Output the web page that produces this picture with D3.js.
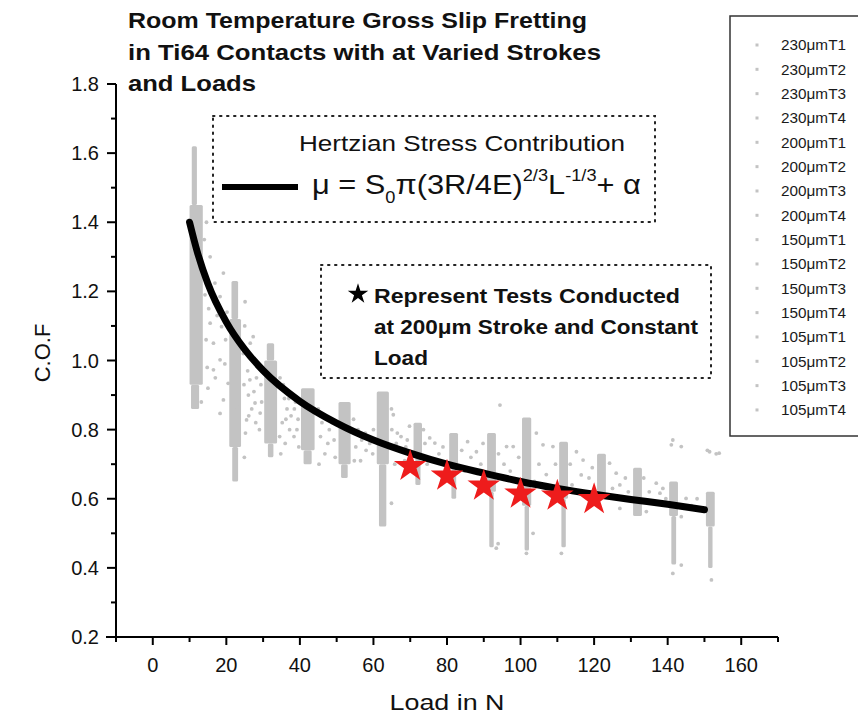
<!DOCTYPE html>
<html lang="en">
<head>
<meta charset="UTF-8">
<title>Room Temperature Gross Slip Fretting</title>
<script src="https://d3js.org/d3.v7.min.js"></script>
<style>
    body { margin: 0; background: #fff; }
    svg { display: block; }
    text { font-family: "Liberation Sans", Arial, sans-serif; fill: #111; }
    .title { font-weight: bold; font-size: 21.5px; }
    .tick-label { font-size: 20px; }
    .axis-title { font-size: 22px; }
    .legend-label { font-size: 15px; fill: #1a1a1a; }
    .note-box { fill: none; stroke: #222; stroke-width: 2; stroke-dasharray: 1.5 5.5; stroke-linecap: round; }
</style>
</head>
<body>
<div id="chart"></div>
<script>
// ---- data ----
const titleLines = ["Room Temperature Gross Slip Fretting", "in Ti64 Contacts with at Varied Strokes", "and Loads"];

const legendNames = ["230\u03bcmT1", "230\u03bcmT2", "230\u03bcmT3", "230\u03bcmT4",
                     "200\u03bcmT1", "200\u03bcmT2", "200\u03bcmT3", "200\u03bcmT4",
                     "150\u03bcmT1", "150\u03bcmT2", "150\u03bcmT3", "150\u03bcmT4",
                     "105\u03bcmT1", "105\u03bcmT2", "105\u03bcmT3", "105\u03bcmT4"];

const xTicks = [0, 20, 40, 60, 80, 100, 120, 140, 160];
const yTicks = [0.2, 0.4, 0.6, 0.8, 1.0, 1.2, 1.4, 1.6, 1.8];

// dense parts of each load step: [load min, load max, cof low, cof high]
const denseBands = [
    [10.6, 12.0, 1.45, 1.62], [10.0, 13.6, 0.93, 1.45], [10.4, 12.6, 0.86, 0.93],
    [21.4, 23.2, 1.12, 1.23], [20.8, 24.0, 0.75, 1.12], [21.6, 23.2, 0.65, 0.75],
    [31.0, 33.0, 1.00, 1.05], [30.3, 33.8, 0.76, 1.00], [31.3, 32.8, 0.72, 0.76],
    [40.3, 44.0, 0.74, 0.92], [41.0, 43.2, 0.70, 0.74],
    [50.5, 53.8, 0.70, 0.88], [51.2, 53.0, 0.66, 0.70],
    [60.9, 64.2, 0.70, 0.91], [61.5, 63.5, 0.52, 0.70],
    [70.9, 73.2, 0.73, 0.82], [71.4, 72.8, 0.64, 0.73],
    [80.6, 83.0, 0.70, 0.79], [81.2, 82.5, 0.60, 0.70],
    [90.9, 93.3, 0.62, 0.79], [91.5, 92.7, 0.46, 0.62],
    [100.4, 102.9, 0.58, 0.835], [101.1, 102.3, 0.45, 0.58],
    [110.5, 112.9, 0.60, 0.765], [111.1, 112.3, 0.46, 0.60],
    [120.8, 123.2, 0.60, 0.73],
    [130.6, 133.0, 0.55, 0.69],
    [140.4, 142.8, 0.55, 0.65], [141.0, 142.3, 0.41, 0.55],
    [150.4, 152.8, 0.52, 0.62], [151.0, 152.2, 0.40, 0.52]
];

// loose points between and around the load steps: [load, cof]
const loosePoints = [
    [15.6, 1.30], [19.2, 1.253], [16.9, 1.224], [18.3, 1.185], [25.1, 1.17], [15.6, 1.108],
    [18.7, 1.098], [16.5, 1.05], [18.3, 1.002], [16.5, 0.973], [20.5, 0.934], [19.2, 0.886],
    [22.8, 0.866], [18.3, 0.847], [13.5, 1.27], [14.2, 1.19], [13.2, 0.88], [14.8, 0.98],
    [14.6, 1.40], [14.0, 1.35], [15.2, 1.15], [17.5, 1.13], [19.8, 1.06], [17.0, 0.95],
    [15.0, 0.92], [19.6, 0.99], [20.2, 1.14], [14.5, 1.06],
    [27.3, 1.069], [28.7, 0.992], [26.4, 0.944], [27.8, 0.877], [29.2, 0.848], [25.5, 0.828],
    [24.6, 1.02], [26.0, 0.90], [25.0, 1.10], [26.5, 1.05], [27.2, 1.00], [28.2, 0.95],
    [25.8, 0.97], [29.4, 0.93], [26.9, 0.86], [28.0, 0.82], [29.6, 0.88], [25.2, 0.79],
    [24.8, 0.93], [27.5, 0.91], [26.1, 0.84], [29.0, 0.80], [24.9, 0.72],
    [34.6, 0.95], [35.8, 0.89], [36.5, 0.86], [37.6, 0.84], [38.8, 0.88], [35.2, 0.82],
    [37.2, 0.80], [39.5, 0.83], [36.0, 0.76], [38.4, 0.78], [34.8, 0.73], [39.7, 0.75],
    [35.5, 0.93], [37.0, 0.89], [38.5, 0.86], [36.2, 0.83], [39.2, 0.80], [34.5, 0.78],
    [45.0, 0.86], [46.0, 0.82], [47.2, 0.83], [48.0, 0.80], [49.3, 0.77], [45.6, 0.78],
    [47.6, 0.76], [48.8, 0.82], [46.8, 0.73], [49.6, 0.72], [45.2, 0.70], [45.5, 0.84],
    [54.6, 0.83], [55.8, 0.80], [56.8, 0.77], [57.8, 0.79], [59.0, 0.76], [58.0, 0.74],
    [55.2, 0.75], [59.8, 0.73], [56.5, 0.71], [60.0, 0.80], [54.8, 0.71],
    [65.4, 0.843], [67.5, 0.78], [68.8, 0.75], [66.2, 0.76], [64.9, 0.86], [64.9, 0.587],
    [65.0, 0.80], [66.5, 0.79], [67.8, 0.74], [69.2, 0.77], [68.5, 0.71], [69.8, 0.81], [65.8, 0.70],
    [74.0, 0.76], [75.3, 0.776], [76.7, 0.761], [77.8, 0.73], [78.9, 0.75], [79.5, 0.70],
    [74.6, 0.70], [73.6, 0.80],
    [84.0, 0.74], [85.6, 0.765], [86.5, 0.72], [88.0, 0.736], [89.2, 0.70], [84.8, 0.68], [89.8, 0.76],
    [94.4, 0.871], [94.0, 0.73], [96.2, 0.751], [98.0, 0.751], [95.5, 0.70], [97.2, 0.68],
    [99.5, 0.72], [93.9, 0.47], [93.4, 0.457],
    [103.4, 0.50], [104.3, 0.79], [106.1, 0.756], [108.8, 0.751], [105.0, 0.70], [107.0, 0.67],
    [109.5, 0.70], [103.8, 0.65], [101.6, 0.442],
    [113.5, 0.70], [115.2, 0.736], [117.0, 0.712], [116.5, 0.669], [118.6, 0.66], [114.0, 0.64],
    [119.5, 0.69], [111.1, 0.442],
    [124.2, 0.703], [126.0, 0.674], [127.0, 0.64], [127.0, 0.572], [125.0, 0.63], [128.5, 0.66], [129.3, 0.62],
    [134.2, 0.563], [136.9, 0.645], [138.7, 0.63], [137.9, 0.616], [135.0, 0.62], [139.5, 0.60], [133.5, 0.66],
    [141.4, 0.77], [141.0, 0.756], [143.7, 0.751], [145.0, 0.601], [143.7, 0.548], [146.5, 0.58],
    [148.0, 0.60], [147.0, 0.57], [143.7, 0.408], [141.4, 0.384],
    [151.4, 0.736], [154.0, 0.732], [151.9, 0.365], [153.2, 0.73], [150.8, 0.74]
];

// Hertzian fit curve, read at several loads
const fitLoad = [10, 12, 15, 20, 25, 30, 40, 50, 60, 70, 80, 90, 100, 110, 120, 130, 140, 150];
const fitCof  = [1.40, 1.318, 1.222, 1.111, 1.032, 0.971, 0.882, 0.819, 0.770, 0.732, 0.700, 0.674, 0.650, 0.630, 0.613, 0.598, 0.584, 0.568];

// tests at 200 um stroke and constant load
const starLoad = [70, 80, 90, 100, 110, 120];
const starCof  = [0.700, 0.672, 0.643, 0.620, 0.614, 0.604];

// ---- layout ----
const width = 858, height = 719;
const grey = "#c3c3c3";

const svg = d3.select("#chart").append("svg")
    .attr("width", width)
    .attr("height", height);

const x = d3.scaleLinear().domain([-10, 170]).range([116, 778]);
const y = d3.scaleLinear().domain([0.2, 1.8]).range([637, 84]);

// scatter: dense cores then loose points
svg.append("g").selectAll("rect")
    .data(denseBands)
    .join("rect")
    .attr("x", d => x(d[0]))
    .attr("width", d => x(d[1]) - x(d[0]))
    .attr("y", d => y(d[3]))
    .attr("height", d => y(d[2]) - y(d[3]))
    .attr("rx", 1.5)
    .attr("fill", grey);

svg.append("g").selectAll("circle")
    .data(loosePoints)
    .join("circle")
    .attr("cx", d => x(d[0]))
    .attr("cy", d => y(d[1]))
    .attr("r", 1.9)
    .attr("fill", grey);

// fit line
const fit = fitLoad.map((l, i) => [l, fitCof[i]]);
svg.append("path")
    .datum(fit)
    .attr("fill", "none")
    .attr("stroke", "#000")
    .attr("stroke-width", 7)
    .attr("stroke-linecap", "round")
    .attr("d", d3.line().x(d => x(d[0])).y(d => y(d[1])).curve(d3.curveMonotoneX));

// red stars
const star = d3.symbol().type(d3.symbolStar).size(330);
svg.append("g").selectAll("path")
    .data(starLoad.map((l, i) => [l, starCof[i]]))
    .join("path")
    .attr("transform", d => `translate(${x(d[0])},${y(d[1]) + 2})`)
    .attr("d", star)
    .attr("fill", "#ee1c1c");

// axes
const xAxis = svg.append("g").attr("transform", `translate(0,${y(0.2)})`);
xAxis.append("path")
    .attr("d", `M${x(-10) - 10},0H${x(170)}`)
    .attr("stroke", "#000").attr("stroke-width", 2);
xAxis.selectAll("line")
    .data(d3.range(-10, 171, 10))
    .join("line")
    .attr("x1", d => x(d)).attr("x2", d => x(d))
    .attr("y1", 0).attr("y2", d => xTicks.includes(d) ? 8 : 5)
    .attr("stroke", "#000").attr("stroke-width", 2);
xAxis.selectAll("text")
    .data(xTicks)
    .join("text")
    .attr("class", "tick-label")
    .attr("x", d => x(d))
    .attr("y", 35)
    .attr("text-anchor", "middle")
    .text(d => d);

const yAxis = svg.append("g").attr("transform", `translate(${x(-10)},0)`);
yAxis.append("path")
    .attr("d", `M0,${y(1.8)}V${y(0.2)}`)
    .attr("stroke", "#000").attr("stroke-width", 2);
yAxis.selectAll("line")
    .data(d3.range(2, 19).map(v => v / 10))
    .join("line")
    .attr("y1", d => y(d)).attr("y2", d => y(d))
    .attr("x1", 0).attr("x2", (d, i) => i % 2 === 0 ? -9 : -5)
    .attr("stroke", "#000").attr("stroke-width", 2);
yAxis.selectAll("text")
    .data(yTicks)
    .join("text")
    .attr("class", "tick-label")
    .attr("x", -17)
    .attr("y", d => y(d))
    .attr("dy", "0.35em")
    .attr("text-anchor", "end")
    .text(d => d.toFixed(1));

svg.append("text")
    .attr("class", "axis-title")
    .attr("transform", "translate(50,353) rotate(-90)")
    .attr("text-anchor", "middle")
    .text("C.O.F");

svg.append("text")
    .attr("class", "axis-title")
    .attr("x", 447).attr("y", 710)
    .attr("text-anchor", "middle")
    .attr("textLength", 115)
    .attr("lengthAdjust", "spacingAndGlyphs")
    .text("Load in N");

// title
const titleWidths = [459, 473, 128];
svg.append("g").selectAll("text")
    .data(titleLines)
    .join("text")
    .attr("class", "title")
    .attr("x", 128)
    .attr("y", (d, i) => 28 + i * 31.5)
    .attr("textLength", (d, i) => titleWidths[i])
    .attr("lengthAdjust", "spacingAndGlyphs")
    .text(d => d);

// Hertzian note box
svg.append("rect").attr("class", "note-box")
    .attr("x", 213).attr("y", 116).attr("width", 442).attr("height", 106);
svg.append("line")
    .attr("x1", 222).attr("x2", 298).attr("y1", 187).attr("y2", 187)
    .attr("stroke", "#000").attr("stroke-width", 6);
svg.append("text")
    .attr("x", 299).attr("y", 151)
    .attr("font-size", 22)
    .attr("textLength", 326)
    .attr("lengthAdjust", "spacingAndGlyphs")
    .text("Hertzian Stress Contribution");

const eq = svg.append("text")
    .attr("transform", "translate(312,194) scale(1.14,1)")
    .attr("font-size", 27);
eq.append("tspan").text("\u03bc = S");
eq.append("tspan").attr("font-size", 16).attr("dy", 9).text("0");
eq.append("tspan").attr("dy", -9).text("\u03c0(3R/4E)");
eq.append("tspan").attr("font-size", 16).attr("dy", -13).text("2/3");
eq.append("tspan").attr("dy", 13).text("L");
eq.append("tspan").attr("font-size", 16).attr("dy", -13).text("-1/3");
eq.append("tspan").attr("dy", 13).text("+ \u03b1");

// star note box
svg.append("rect").attr("class", "note-box")
    .attr("x", 321).attr("y", 265).attr("width", 390).attr("height", 113);
svg.append("path")
    .attr("transform", "translate(358,294)")
    .attr("d", d3.symbol().type(d3.symbolStar).size(130))
    .attr("fill", "#000");
const noteLines = ["Represent Tests Conducted", "at 200\u03bcm Stroke and Constant", "Load"];
const noteWidths = [306, 324, 54];
svg.append("g").selectAll("text")
    .data(noteLines)
    .join("text")
    .attr("x", 374)
    .attr("y", (d, i) => 303 + i * 31)
    .attr("font-size", 20)
    .attr("font-weight", "bold")
    .attr("textLength", (d, i) => noteWidths[i])
    .attr("lengthAdjust", "spacingAndGlyphs")
    .text(d => d);

// legend
svg.append("rect")
    .attr("x", 730).attr("y", 16).attr("width", 150).attr("height", 420)
    .attr("fill", "#fff").attr("stroke", "#333").attr("stroke-width", 1.5);
const legend = svg.append("g").selectAll("g")
    .data(legendNames)
    .join("g")
    .attr("transform", (d, i) => `translate(0,${45 + i * 24.33})`);
legend.append("rect").attr("x", 755.5).attr("y", -1.5).attr("width", 3).attr("height", 3).attr("fill", grey);
legend.append("text")
    .attr("class", "legend-label")
    .attr("x", 781).attr("dy", "0.35em")
    .attr("textLength", 65)
    .attr("lengthAdjust", "spacingAndGlyphs")
    .text(d => d);
</script>
</body>
</html>
